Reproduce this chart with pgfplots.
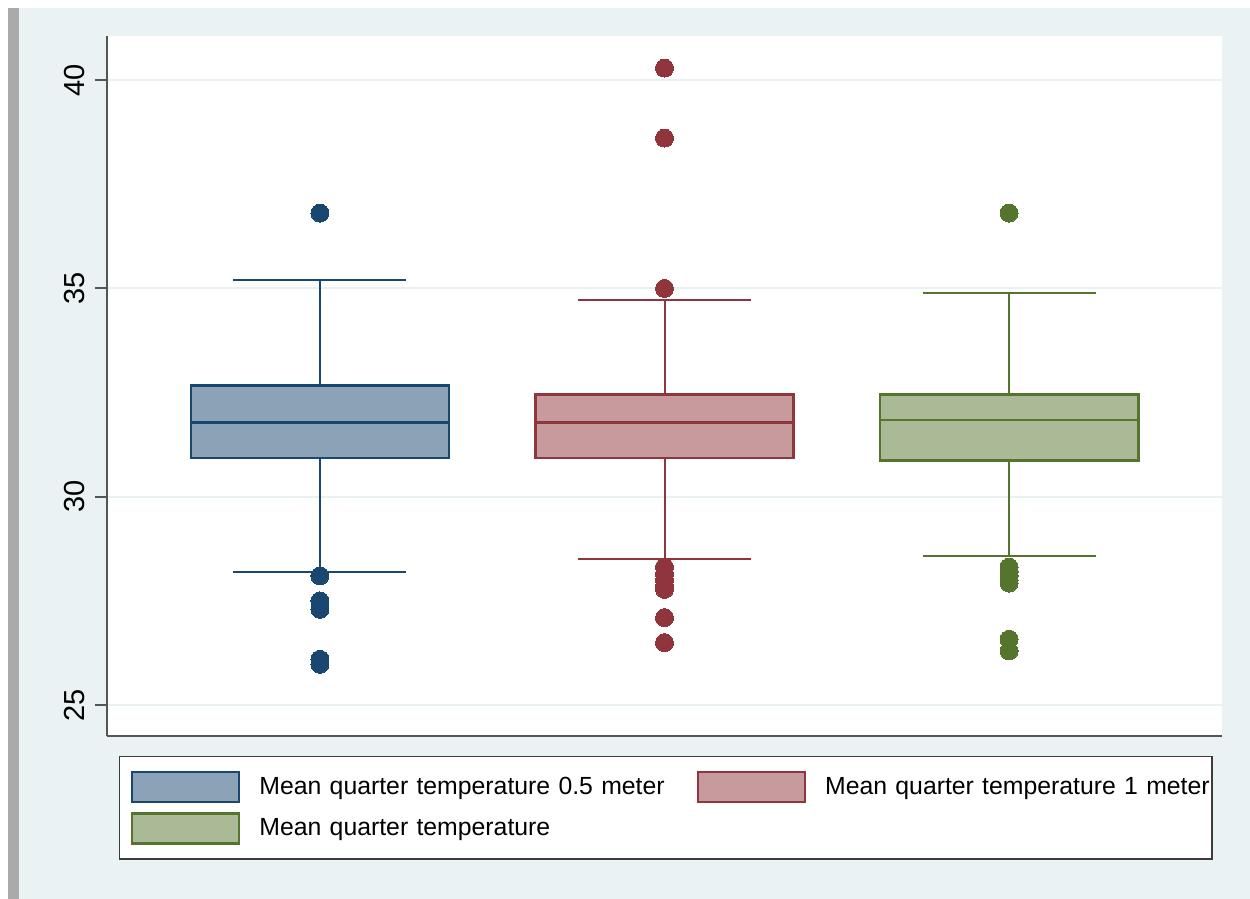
\documentclass[border=0pt]{standalone}
\usepackage{fontspec}
\setmainfont{Liberation Sans}
\usepackage{pgfplots}
\pgfplotsset{compat=1.18}
\definecolor{snavy}{RGB}{26,71,111}
\definecolor{smaroon}{RGB}{144,53,59}
\definecolor{sgreen}{RGB}{85,117,47}
\definecolor{sbg}{RGB}{234,242,243}
\definecolor{sgrid}{RGB}{232,240,242}
\definecolor{sbar}{RGB}{170,170,170}
\definecolor{saxis}{RGB}{85,85,85}
\definecolor{slegend}{RGB}{60,60,60}
\begin{document}
\begin{tikzpicture}
\useasboundingbox (-53.5pt,-81.5pt) rectangle (571.5pt,368pt);
\fill[white] (-53.5pt,-81.5pt) rectangle (571.5pt,368pt);
\fill[sbg] (-44pt,-81.5pt) rectangle (571.5pt,364pt);
\fill[sbar] (-49.5pt,-81.5pt) rectangle (-44pt,364pt);
\begin{axis}[
  at={(0pt,0pt)}, anchor=south west,
  scale only axis, width=557.5pt, height=350pt,
  xmin=0.382, xmax=3.618, ymin=24.26, ymax=41.06,
  xtick=\empty, ytick={25,30,35,40},
  axis x line*=bottom, axis y line*=left,
  axis line style={saxis, line width=1pt},
  axis background/.style={fill=white},
  tick style={saxis, line width=1pt},
  major tick length=6pt, tick align=outside,
  ymajorgrids, grid style={sgrid, line width=1pt},
  /pgf/number format/assume math mode=true,
  yticklabel shift=5pt,
  yticklabel style={rotate=90, anchor=south, inner sep=0pt, font=\fontsize{14.5}{16}\selectfont},
  legend columns=2,
  legend cell align=left,
  legend style={at={(axis description cs:0.01076,-0.02857)}, anchor=north west,
    draw=slegend, line width=0.75pt, fill=white,
    inner xsep=0pt, inner ysep=7pt,
    font=\fontsize{12.4}{15}\selectfont,
    row sep=4.5pt,
    nodes={inner sep=0pt},
    /tikz/every odd column/.append style={column sep=9.5pt},
    /tikz/every even column/.append style={column sep=3pt}},
]
% ---------- whiskers
\addplot[snavy, line width=1pt, forget plot] coordinates {(1,32.68) (1,35.2)};
\addplot[snavy, line width=1pt, forget plot] coordinates {(0.749,35.2) (1.251,35.2)};
\addplot[snavy, line width=1pt, forget plot] coordinates {(1,30.93) (1,28.19)};
\addplot[snavy, line width=1pt, forget plot] coordinates {(0.749,28.19) (1.251,28.19)};
\addplot[smaroon, line width=1pt, forget plot] coordinates {(2,32.46) (2,34.72)};
\addplot[smaroon, line width=1pt, forget plot] coordinates {(1.749,34.72) (2.251,34.72)};
\addplot[smaroon, line width=1pt, forget plot] coordinates {(2,30.93) (2,28.5)};
\addplot[smaroon, line width=1pt, forget plot] coordinates {(1.749,28.5) (2.251,28.5)};
\addplot[sgreen, line width=1pt, forget plot] coordinates {(3,32.46) (3,34.89)};
\addplot[sgreen, line width=1pt, forget plot] coordinates {(2.749,34.89) (3.251,34.89)};
\addplot[sgreen, line width=1pt, forget plot] coordinates {(3,30.88) (3,28.58)};
\addplot[sgreen, line width=1pt, forget plot] coordinates {(2.749,28.58) (3.251,28.58)};
% ---------- boxes
\addplot[draw=snavy, fill=snavy!50!white, line width=1.4pt,
  legend image code/.code={\path (0pt,0pt); \draw[snavy, fill=snavy!50!white, line width=1.3pt] (5.5pt,-7.5pt) rectangle (59pt,7.5pt);}]
  coordinates {(0.6255,30.93) (1.3745,30.93) (1.3745,32.68) (0.6255,32.68)} -- cycle;
\addlegendentry[text width=210pt]{\mbox{Mean quarter temperature 0.5 meter}}
\addplot[draw=smaroon, fill=smaroon!50!white, line width=1.4pt,
  legend image code/.code={\path (0pt,0pt); \draw[smaroon, fill=smaroon!50!white, line width=1.3pt] (5.5pt,-7.5pt) rectangle (59pt,7.5pt);}]
  coordinates {(1.6255,30.93) (2.3745,30.93) (2.3745,32.46) (1.6255,32.46)} -- cycle;
\addlegendentry[text width=193.5pt]{\mbox{Mean quarter temperature 1 meter}}
\addplot[draw=sgreen, fill=sgreen!50!white, line width=1.4pt,
  legend image code/.code={\path (0pt,0pt); \draw[sgreen, fill=sgreen!50!white, line width=1.3pt] (5.5pt,-7.5pt) rectangle (59pt,7.5pt);}]
  coordinates {(2.6255,30.88) (3.3745,30.88) (3.3745,32.46) (2.6255,32.46)} -- cycle;
\addlegendentry[text width=210pt]{\mbox{Mean quarter temperature}}
% ---------- medians
\addplot[snavy, line width=1.3pt, forget plot] coordinates {(0.6255,31.79) (1.3745,31.79)};
\addplot[smaroon, line width=1.3pt, forget plot] coordinates {(1.6255,31.79) (2.3745,31.79)};
\addplot[sgreen, line width=1.3pt, forget plot] coordinates {(2.6255,31.84) (3.3745,31.84)};
% ---------- outliers
\addplot[only marks, mark=*, mark size=4.5pt, mark options={draw=snavy, fill=snavy, line width=0pt}, forget plot]
  coordinates {(1,36.81) (1,28.10) (1,27.50) (1,27.30) (1,26.10) (1,25.98)};
\addplot[only marks, mark=*, mark size=4.5pt, mark options={draw=smaroon, fill=smaroon, line width=0pt}, forget plot]
  coordinates {(2,40.29) (2,38.61) (2,35.0) (2,28.31) (2,28.15) (2,28.0) (2,27.85) (2,27.78) (2,27.10) (2,26.50)};
\addplot[only marks, mark=*, mark size=4.5pt, mark options={draw=sgreen, fill=sgreen, line width=0pt}, forget plot]
  coordinates {(3,36.81) (3,28.31) (3,28.20) (3,28.10) (3,28.0) (3,27.93) (3,26.58) (3,26.30)};
\end{axis}
\end{tikzpicture}
\end{document}
